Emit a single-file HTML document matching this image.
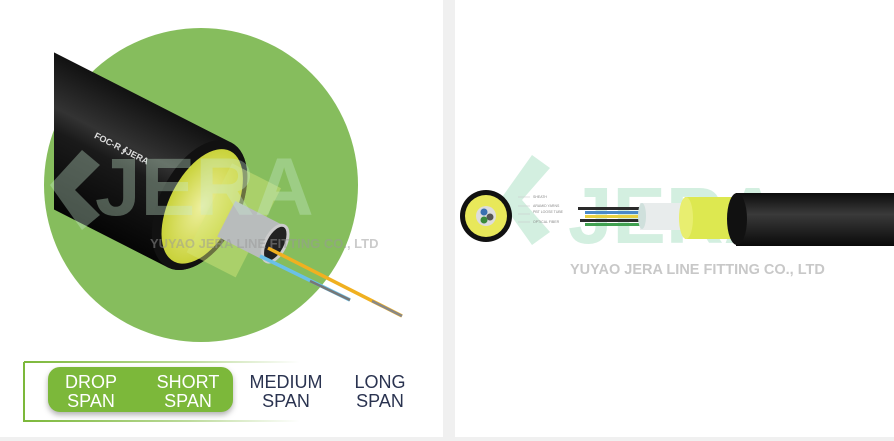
<!DOCTYPE html>
<html><head><meta charset="utf-8"><style>
html,body{margin:0;padding:0;background:#fff}
body{width:894px;height:441px;overflow:hidden;position:relative;font-family:"Liberation Sans",sans-serif}
</style></head><body>
<svg width="894" height="441" viewBox="0 0 894 441" xmlns="http://www.w3.org/2000/svg" style="position:absolute;left:0;top:0">
<defs>
<linearGradient id="bord" x1="0" x2="1" y1="0" y2="0">
<stop offset="0" stop-color="#7cb83a"/><stop offset="0.6" stop-color="#7cb83a" stop-opacity="0.5"/><stop offset="1" stop-color="#7cb83a" stop-opacity="0"/></linearGradient>
<linearGradient id="blk" x1="0" x2="0" y1="0" y2="1">
<stop offset="0" stop-color="#111"/><stop offset="0.35" stop-color="#333"/><stop offset="0.5" stop-color="#1a1a1a"/><stop offset="1" stop-color="#050505"/></linearGradient>
<linearGradient id="blk2" x1="0" x2="0" y1="0" y2="1">
<stop offset="0" stop-color="#0c0c0c"/><stop offset="0.4" stop-color="#3a3a3a"/><stop offset="1" stop-color="#0a0a0a"/></linearGradient>
<radialGradient id="yel"><stop offset="0" stop-color="#eef0a0"/><stop offset="1" stop-color="#c9d23a"/></radialGradient>
<clipPath id="lc"><rect x="54" y="0" width="400" height="441"/></clipPath>
</defs>
<rect x="443" y="0" width="12" height="441" fill="#f0f0f0"/>
<rect x="0" y="437" width="894" height="4" fill="#f0f0f0"/>
<!-- left panel -->
<circle cx="201" cy="185" r="157" fill="#86bd5d"/>
<g clip-path="url(#lc)">
<g transform="translate(16 31) rotate(27 180 170)">
<path d="M-20 102 L185 102 A40 70 0 0 1 185 242 L-20 242 Z" fill="url(#blk)"/>
<ellipse cx="185" cy="172" rx="40" ry="70" fill="#111"/>
<ellipse cx="188" cy="172" rx="33" ry="62" fill="url(#yel)"/>
<rect x="195" y="120" width="55" height="100" fill="#d8e67a" opacity="0.45"/>
<rect x="215" y="152" width="55" height="40" fill="#b8bcbc"/>
<ellipse cx="270" cy="172" rx="10" ry="20" fill="#222" stroke="#ccc" stroke-width="3"/>
<text x="60" y="160" font-size="9" font-weight="bold" fill="#ddd">FOC-R ∮JERA</text>
</g>
</g>
<line x1="268" y1="248" x2="402" y2="316" stroke="#f0b020" stroke-width="3.5"/>
<line x1="372" y1="301" x2="402" y2="316" stroke="#888" stroke-width="2.5"/>
<line x1="260" y1="256" x2="350" y2="300" stroke="#6ac0e8" stroke-width="3.5"/>
<line x1="310" y1="281" x2="350" y2="300" stroke="#777" stroke-width="2.5"/>
<text x="95" y="215" font-size="82" font-weight="bold" fill="#c9ecd0" opacity="0.35">JERA</text>
<path d="M50 185 L82 150 L100 165 L75 190 L100 215 L82 230 Z" fill="#c9ecd0" opacity="0.35"/>
<text x="150" y="248" font-size="13" font-weight="bold" fill="#999" opacity="0.5">YUYAO JERA LINE FITTING CO., LTD</text>
<!-- span selector -->
<path d="M24 362 H300 M24 362 V421 H300" stroke="url(#bord)" stroke-width="2" fill="none"/>
<rect x="48" y="367" width="185" height="45" rx="12" fill="#7cb83a" style="filter:drop-shadow(0 3px 3px rgba(0,0,0,.3))"/>
<g font-size="18" text-anchor="middle">
<text x="91" y="388" fill="#fff">DROP</text><text x="91" y="407" fill="#fff">SPAN</text>
<text x="188" y="388" fill="#fff">SHORT</text><text x="188" y="407" fill="#fff">SPAN</text>
<text x="286" y="388" fill="#2a3350">MEDIUM</text><text x="286" y="407" fill="#2a3350">SPAN</text>
<text x="380" y="388" fill="#2a3350">LONG</text><text x="380" y="407" fill="#2a3350">SPAN</text>
</g>
<!-- right panel -->
<path d="M532 155 L550 168 L522 200 L550 232 L532 245 L500 200 Z" fill="#d3efe0"/>
<text x="568" y="243" font-size="80" font-weight="bold" fill="#d3efe0">JERA</text>
<circle cx="486" cy="216" r="26" fill="#111"/>
<circle cx="486" cy="216" r="21" fill="#e8e85a"/>
<circle cx="486" cy="216" r="10" fill="#ddd"/>
<circle cx="484" cy="212" r="3.5" fill="#3a6fb0"/><circle cx="490" cy="217" r="3.5" fill="#555"/><circle cx="484" cy="220" r="3.5" fill="#3a8a3a"/>
<g stroke="#ccc" stroke-width="0.6"><line x1="518" y1="197" x2="530" y2="197"/><line x1="518" y1="206" x2="530" y2="206"/><line x1="518" y1="214" x2="530" y2="214"/><line x1="518" y1="222" x2="530" y2="222"/></g>
<g font-size="3.5" fill="#888"><text x="533" y="198">SHEATH</text><text x="533" y="207">ARAMID YARNS</text><text x="533" y="213">PBT LOOSE TUBE</text><text x="533" y="223">OPTICAL FIBER</text></g>
<rect x="578" y="207" width="70" height="3" fill="#2a2a2a"/>
<rect x="585" y="211" width="60" height="3" fill="#4a8ac8"/>
<rect x="585" y="215" width="60" height="3" fill="#e8d040"/>
<rect x="580" y="219" width="65" height="3" fill="#2a2a2a"/>
<rect x="585" y="223" width="60" height="3" fill="#40a050"/>
<rect x="640" y="203" width="50" height="27" fill="#e8ecec"/>
<ellipse cx="642" cy="216" rx="4" ry="13" fill="#cfe0dc"/>
<rect x="685" y="197" width="50" height="42" fill="#dde850"/>
<ellipse cx="686" cy="218" rx="7" ry="21" fill="#e8ee70"/>
<rect x="736" y="193" width="158" height="53" fill="url(#blk2)"/>
<ellipse cx="737" cy="219" rx="10" ry="26" fill="#111"/>
<text x="570" y="274" font-size="14.5" font-weight="bold" fill="#c8c8c8">YUYAO JERA LINE FITTING CO., LTD</text>
</svg>
</body></html>
